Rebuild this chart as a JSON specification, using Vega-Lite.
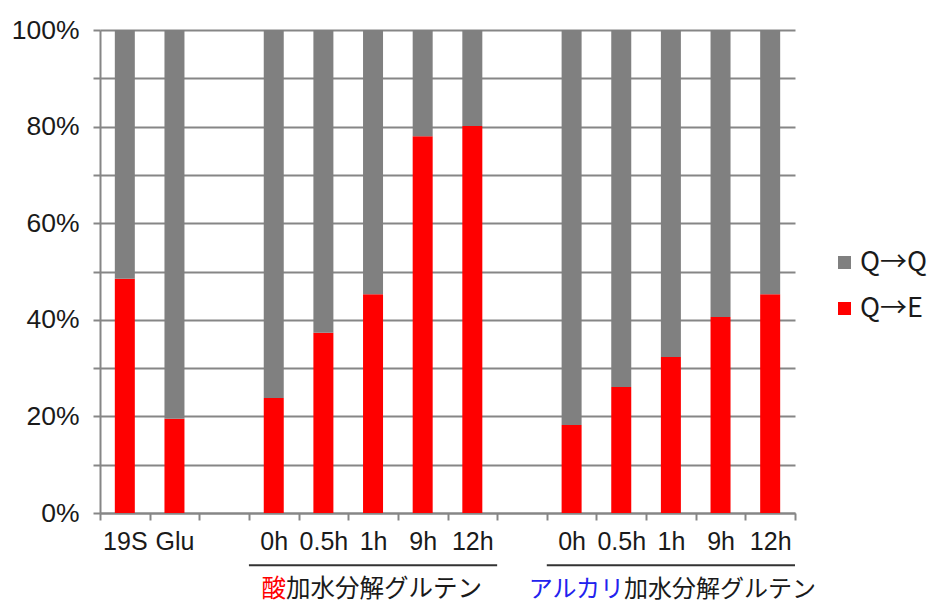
{
  "$schema": "https://vega.github.io/schema/vega-lite/v6.json",
  "width": 695,
  "height": 483,
  "autosize": "none",
  "padding": {"left": 100, "top": 30, "right": 133, "bottom": 94},
  "background": "white",
  "config": {"view": {"stroke": null}, "font": "Liberation Sans"},
  "data": {"values": [
    {"cat": "x19S", "series": "Q→E", "value": 48.5},
    {"cat": "x19S", "series": "Q→Q", "value": 51.5},
    {"cat": "xGlu", "series": "Q→E", "value": 19.5},
    {"cat": "xGlu", "series": "Q→Q", "value": 80.5},
    {"cat": "a0h", "series": "Q→E", "value": 23.8},
    {"cat": "a0h", "series": "Q→Q", "value": 76.2},
    {"cat": "a0.5h", "series": "Q→E", "value": 37.3},
    {"cat": "a0.5h", "series": "Q→Q", "value": 62.7},
    {"cat": "a1h", "series": "Q→E", "value": 45.3},
    {"cat": "a1h", "series": "Q→Q", "value": 54.7},
    {"cat": "a9h", "series": "Q→E", "value": 78.0},
    {"cat": "a9h", "series": "Q→Q", "value": 22.0},
    {"cat": "a12h", "series": "Q→E", "value": 80.1},
    {"cat": "a12h", "series": "Q→Q", "value": 19.9},
    {"cat": "k0h", "series": "Q→E", "value": 18.2},
    {"cat": "k0h", "series": "Q→Q", "value": 81.8},
    {"cat": "k0.5h", "series": "Q→E", "value": 26.1},
    {"cat": "k0.5h", "series": "Q→Q", "value": 73.9},
    {"cat": "k1h", "series": "Q→E", "value": 32.3},
    {"cat": "k1h", "series": "Q→Q", "value": 67.7},
    {"cat": "k9h", "series": "Q→E", "value": 40.6},
    {"cat": "k9h", "series": "Q→Q", "value": 59.4},
    {"cat": "k12h", "series": "Q→E", "value": 45.3},
    {"cat": "k12h", "series": "Q→Q", "value": 54.7}
  ]},
  "layer": [
    {
      "mark": {"type": "bar", "size": 20},
      "encoding": {
        "x": {
          "field": "cat", "type": "nominal",
          "scale": {"domain": ["x19S", "xGlu", "gap1", "a0h", "a0.5h", "a1h", "a9h", "a12h", "gap2", "k0h", "k0.5h", "k1h", "k9h", "k12h"], "paddingInner": 0, "paddingOuter": 0},
          "axis": {
            "title": null, "labelAngle": 0, "grid": false,
            "tickBand": "extent",
            "labelExpr": "isValid(datum.value) && substring(datum.value,0,3)!='gap' ? substring(datum.value,1) : ''",
            "labelFont": "Liberation Sans", "labelFontSize": 25, "labelColor": "#1a1a1a",
            "labelPadding": 9,
            "domainColor": "#868686", "domainWidth": 2,
            "tickColor": "#868686", "tickWidth": 2, "tickSize": 7
          }
        },
        "y": {
          "field": "value", "type": "quantitative", "stack": "zero",
          "scale": {"domain": [0, 100], "nice": false},
          "axis": {
            "title": null,
            "values": [0, 10, 20, 30, 40, 50, 60, 70, 80, 90, 100],
            "labelExpr": "datum.value % 20 == 0 ? datum.value + '%' : ''",
            "labelFont": "Liberation Sans", "labelFontSize": 26.5, "labelColor": "#1a1a1a",
            "labelPadding": 14,
            "grid": true, "gridColor": "#868686", "gridWidth": 2,
            "domainColor": "#868686", "domainWidth": 2,
            "tickColor": "#868686", "tickWidth": 2, "tickSize": 7
          }
        },
        "order": {"field": "series", "sort": "ascending"},
        "color": {
          "field": "series", "type": "nominal",
          "scale": {"domain": ["Q→Q", "Q→E"], "range": ["#808080", "#FF0000"]},
          "legend": {
            "title": null, "orient": "none", "legendX": 731, "legendY": 219,
            "symbolType": "square", "symbolSize": 169, "symbolStrokeWidth": 0,
            "labelFont": "Noto Sans CJK JP", "labelFontSize": 27, "labelColor": "#1a1a1a",
            "labelOffset": 2, "rowPadding": 18
          }
        }
      }
    },
    {
      "data": {"values": [{}]},
      "mark": {"type": "rule", "color": "#333333", "strokeWidth": 2},
      "encoding": {
        "x": {"datum": "a0h", "type": "nominal", "bandPosition": 0},
        "x2": {"datum": "a12h", "bandPosition": 1},
        "y": {"datum": -10.8, "type": "quantitative"}
      }
    },
    {
      "data": {"values": [{}]},
      "mark": {"type": "rule", "color": "#333333", "strokeWidth": 2},
      "encoding": {
        "x": {"datum": "k0h", "type": "nominal", "bandPosition": 0},
        "x2": {"datum": "k12h", "bandPosition": 1},
        "y": {"datum": -10.8, "type": "quantitative"}
      }
    },
    {
      "data": {"values": [{}]},
      "mark": {"type": "text", "align": "right", "baseline": "middle", "dx": -87, "font": "Noto Sans CJK JP", "fontSize": 24.5, "color": "#FF0000"},
      "encoding": {
        "x": {"datum": "a1h", "type": "nominal"},
        "y": {"datum": -15.9, "type": "quantitative"},
        "text": {"value": "酸"}
      }
    },
    {
      "data": {"values": [{}]},
      "mark": {"type": "text", "align": "left", "baseline": "middle", "dx": -87, "font": "Noto Sans CJK JP", "fontSize": 24.5, "color": "#1a1a1a"},
      "encoding": {
        "x": {"datum": "a1h", "type": "nominal"},
        "y": {"datum": -15.9, "type": "quantitative"},
        "text": {"value": "加水分解グルテン"}
      }
    },
    {
      "data": {"values": [{}]},
      "mark": {"type": "text", "align": "right", "baseline": "middle", "dx": -47, "font": "Noto Sans CJK JP", "fontSize": 24, "color": "#2222EE"},
      "encoding": {
        "x": {"datum": "k1h", "type": "nominal"},
        "y": {"datum": -15.9, "type": "quantitative"},
        "text": {"value": "アルカリ"}
      }
    },
    {
      "data": {"values": [{}]},
      "mark": {"type": "text", "align": "left", "baseline": "middle", "dx": -47, "font": "Noto Sans CJK JP", "fontSize": 24, "color": "#1a1a1a"},
      "encoding": {
        "x": {"datum": "k1h", "type": "nominal"},
        "y": {"datum": -15.9, "type": "quantitative"},
        "text": {"value": "加水分解グルテン"}
      }
    }
  ]
}
